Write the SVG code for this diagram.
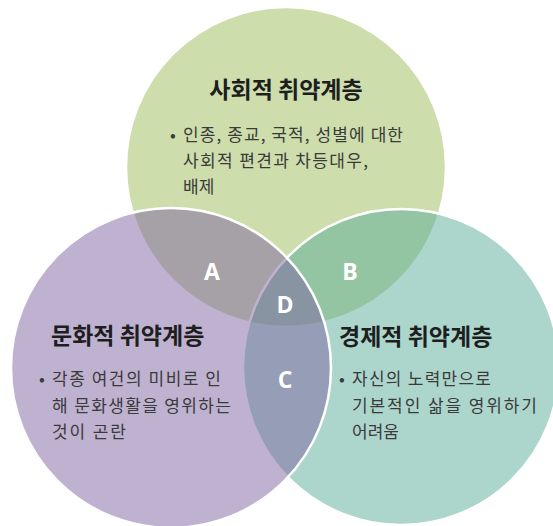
<svg xmlns="http://www.w3.org/2000/svg" width="553" height="526" viewBox="0 0 553 526">
  <style>
    .circle { stroke: #ffffff; stroke-width: 2.5; fill-opacity: 0.5; }
    .title { font-family: "Noto Sans CJK KR", "Noto Sans", sans-serif; font-size: 23px; font-weight: bold; fill: #1e1e1e; }
    .body { font-family: "Noto Sans CJK KR", "Noto Sans", sans-serif; font-size: 17px; fill: #3a3a3a; }
    .label { font-family: "Open Sans", "Noto Sans", sans-serif; font-size: 23px; font-weight: bold; fill: #ffffff; text-anchor: middle; }
  </style>
  <rect width="553" height="526" fill="#ffffff"/>
  <g id="node-social">
    <circle class="circle" cx="286" cy="167" r="160" fill="#9BBB59"/>
    <text class="title" x="286" y="98" text-anchor="middle">사회적 취약계층</text>
    <text class="body" x="170" y="141">•</text>
    <text class="body" x="183" y="141" textLength="220" lengthAdjust="spacing">인종, 종교, 국적, 성별에 대한</text>
    <text class="body" x="183" y="167" textLength="185" lengthAdjust="spacing">사회적 편견과 차등대우,</text>
    <text class="body" x="183" y="193">배제</text>
  </g>
  <g id="node-economic">
    <circle class="circle" cx="401" cy="367" r="158" fill="#59AD99"/>
    <text class="title" x="339" y="345">경제적 취약계층</text>
    <text class="body" x="339" y="385">•</text>
    <text class="body" x="352" y="385" textLength="139" lengthAdjust="spacing">자신의 노력만으로</text>
    <text class="body" x="352" y="412" textLength="185" lengthAdjust="spacing">기본적인 삶을 영위하기</text>
    <text class="body" x="352" y="438">어려움</text>
  </g>
  <g id="node-cultural">
    <circle class="circle" cx="171" cy="368" r="160" fill="#8064A2"/>
    <text class="title" x="51" y="344">문화적 취약계층</text>
    <text class="body" x="39" y="385">•</text>
    <text class="body" x="52" y="385" textLength="169" lengthAdjust="spacing">각종 여건의 미비로 인</text>
    <text class="body" x="52" y="412" textLength="179" lengthAdjust="spacing">해 문화생활을 영위하는</text>
    <text class="body" x="52" y="438" textLength="74" lengthAdjust="spacing">것이 곤란</text>
  </g>
  <g id="overlap-labels">
    <text class="label" x="212" y="280">A</text>
    <text class="label" x="350" y="280">B</text>
    <text class="label" x="285" y="313">D</text>
    <text class="label" x="285" y="388">C</text>
  </g>
  <g id="connectors"></g>
</svg>
